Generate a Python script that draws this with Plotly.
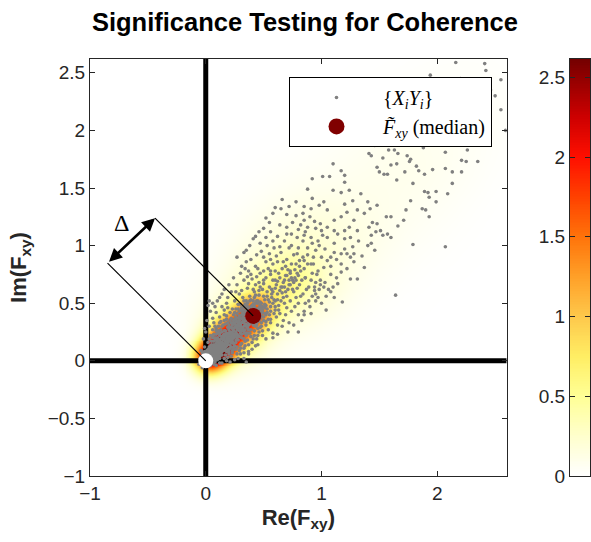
import numpy as np
import plotly.graph_objects as go

# ---------------------------------------------------------------- data
TITLE = "Significance Testing for Coherence"
x_ticks = [-1, 0, 1, 2]
y_ticks = [-1, -0.5, 0, 0.5, 1, 1.5, 2, 2.5]
cbar_ticks = [0, 0.5, 1, 1.5, 2, 2.5]
x_range = [-1, 2.6]
y_range = [-1, 2.62]
density_max = 2.615

median_pt = (0.41, 0.39)      # median of the products
delta_arm = 1.2               # length of the Δ construction arms

# product samples X_i * Y_i (Re, Im), grouped by distance from the origin
near_origin = [
    (0.00, 0.01), (0.01, -0.01), (-0.01, 0.02), (0.02, 0.00), (0.01, 0.03), (0.03, 0.02), (-0.02, 0.00), (0.00, -0.02), (0.04, 0.04), (0.02, 0.05),
    (0.05, 0.01), (-0.03, 0.03), (0.03, -0.03), (0.06, 0.03), (0.03, 0.07), (0.07, 0.06), (-0.04, -0.01), (-0.01, -0.04), (0.05, 0.08), (0.08, 0.04),
    (0.00, 0.06), (0.06, 0.00), (-0.02, 0.05), (0.05, -0.02), (0.09, 0.08), (0.07, 0.10), (0.10, 0.06), (-0.05, 0.02), (0.02, -0.05), (0.04, 0.10),
    (0.10, 0.03), (0.08, 0.12), (0.12, 0.09), (0.01, 0.09), (0.09, 0.01), (-0.03, 0.07), (0.07, -0.03), (0.11, 0.12), (0.13, 0.06), (0.06, 0.13),
    (-0.06, -0.03), (-0.03, -0.06), (0.03, 0.12), (0.12, 0.02), (0.14, 0.11), (0.10, 0.14), (-0.01, 0.12), (0.12, -0.02), (0.04, 0.01), (0.01, 0.04),
    (0.06, 0.06), (0.08, 0.08), (0.02, 0.02), (0.03, 0.05), (0.05, 0.03), (-0.02, -0.02), (0.07, 0.02), (0.02, 0.08), (0.09, 0.11), (0.11, 0.09),
    (0.13, 0.14), (0.15, 0.09), (0.09, 0.15), (-0.04, 0.09), (0.09, -0.04), (0.15, 0.15), (0.00, 0.00), (0.04, -0.01), (-0.01, 0.06), (0.06, -0.01),
    (0.01, 0.02), (0.02, 0.01), (0.03, 0.03), (0.00, 0.04), (0.04, 0.00), (-0.01, 0.01), (0.01, -0.02), (0.05, 0.05), (0.03, 0.06), (0.06, 0.04),
    (0.02, 0.07), (0.07, 0.01), (-0.02, 0.03), (0.03, -0.02), (0.08, 0.07), (0.05, 0.09), (0.09, 0.05), (0.04, 0.07), (0.07, 0.04), (0.01, 0.05),
    (0.05, 0.00), (-0.03, 0.01), (0.00, -0.03), (0.06, 0.08), (0.08, 0.10), (0.10, 0.08), (0.04, 0.02), (0.02, 0.04), (-0.01, 0.08), (0.08, -0.01),
    (0.11, 0.11), (0.12, 0.07), (0.07, 0.12), (0.00, 0.02), (0.02, -0.01), (0.06, 0.02), (0.02, 0.10), (0.10, 0.01), (-0.04, 0.04), (0.04, -0.04),
    (0.03, 0.04), (0.05, 0.06), (0.04, 0.08), (0.08, 0.05), (0.06, 0.07), (0.02, 0.06), (0.06, 0.02), (0.09, 0.09), (0.07, 0.09), (0.09, 0.07),
    (0.01, 0.07), (0.07, 0.00), (0.10, 0.04), (0.04, 0.11), (0.11, 0.05), (0.05, 0.11), (0.12, 0.10), (0.10, 0.12), (0.08, 0.03), (0.03, 0.09),
    (0.00, 0.03), (0.03, 0.00), (0.01, 0.00), (0.00, 0.05), (0.05, 0.04), (0.04, 0.05), (0.07, 0.07), (0.06, 0.05), (0.05, 0.07), (0.08, 0.09),
    (0.09, 0.03), (0.03, 0.08), (0.11, 0.08), (0.08, 0.11), (0.12, 0.04), (0.04, 0.13), (0.13, 0.09), (0.09, 0.13), (-0.01, 0.03), (0.03, -0.01),
]
inner_core = [
    (0.17, 0.12), (0.12, 0.18), (0.19, 0.17), (0.16, 0.21), (0.21, 0.14), (0.23, 0.19), (0.18, 0.24), (0.14, 0.25), (0.25, 0.13), (0.20, 0.21),
    (0.22, 0.25), (0.26, 0.22), (0.24, 0.28), (0.28, 0.18), (0.19, 0.29), (0.27, 0.27), (0.30, 0.24), (0.25, 0.32), (0.31, 0.29), (0.29, 0.33),
    (0.33, 0.26), (0.22, 0.33), (0.34, 0.31), (0.32, 0.36), (0.36, 0.29), (0.28, 0.37), (0.35, 0.35), (0.38, 0.32), (0.31, 0.40), (0.37, 0.38),
    (0.05, 0.17), (0.02, 0.16), (0.08, 0.20), (0.04, 0.22), (0.10, 0.24), (0.06, 0.27), (0.11, 0.30), (0.07, 0.33), (0.13, 0.34), (0.15, 0.31),
    (0.17, 0.05), (0.16, 0.02), (0.20, 0.08), (0.22, 0.04), (0.24, 0.10), (0.27, 0.06), (0.30, 0.11), (0.33, 0.07), (0.34, 0.13), (0.31, 0.15),
    (0.18, 0.36), (0.16, 0.40), (0.21, 0.42), (0.12, 0.38), (0.24, 0.40), (0.09, 0.42), (0.19, 0.46), (0.14, 0.47), (0.06, 0.37), (0.03, 0.30),
    (0.36, 0.18), (0.40, 0.16), (0.42, 0.22), (0.38, 0.24), (0.44, 0.19), (0.40, 0.10), (0.46, 0.25), (0.39, 0.27), (0.43, 0.30), (0.28, 0.02),
    (0.00, 0.25), (-0.02, 0.19), (0.01, 0.35), (-0.01, 0.28), (0.04, 0.43), (0.02, 0.48), (0.06, 0.50), (0.10, 0.52), (0.25, 0.01), (0.21, -0.01),
    (0.13, 0.16), (0.15, 0.13), (0.10, 0.19), (0.19, 0.10), (0.12, 0.22), (0.22, 0.12), (0.16, 0.26), (0.26, 0.16), (0.20, 0.31), (0.31, 0.20),
    (0.33, 0.02), (0.35, -0.01), (0.18, 0.00), (0.14, -0.02), (0.37, 0.06), (0.29, 0.09), (0.07, 0.23), (0.09, 0.28), (0.26, 0.36), (0.23, 0.45),
    (0.26, 0.45), (0.29, 0.43), (0.33, 0.44), (0.41, 0.36), (0.45, 0.34), (0.47, 0.29), (0.49, 0.22), (0.44, 0.40), (0.40, 0.42), (0.36, 0.47),
    (0.13, 0.12), (0.12, 0.14), (0.15, 0.12), (0.11, 0.16), (0.16, 0.11), (0.14, 0.15), (0.17, 0.15), (0.15, 0.18), (0.18, 0.13), (0.13, 0.19),
    (0.19, 0.16), (0.16, 0.19), (0.20, 0.18), (0.18, 0.21), (0.21, 0.19), (0.17, 0.17), (0.10, 0.20), (0.20, 0.10), (0.08, 0.18), (0.18, 0.08),
    (0.12, 0.24), (0.24, 0.12), (0.22, 0.16), (0.16, 0.23), (0.06, 0.20), (0.20, 0.06), (0.14, 0.21), (0.21, 0.11), (0.11, 0.14), (0.14, 0.11),
    (0.19, 0.20), (0.22, 0.21), (0.23, 0.24), (0.21, 0.23), (0.25, 0.21), (0.13, 0.27), (0.27, 0.12), (0.09, 0.23), (0.23, 0.09), (0.17, 0.26),
    (0.26, 0.18), (0.24, 0.15), (0.15, 0.22), (0.19, 0.23), (0.23, 0.17), (0.05, 0.14), (0.14, 0.05), (0.07, 0.17), (0.17, 0.09), (0.11, 0.26),
]
core_fill = [
    (0.05, 0.05), (0.08, 0.06), (0.06, 0.09), (0.11, 0.07), (0.07, 0.14), (0.14, 0.08), (0.12, 0.12), (0.10, 0.10), (0.16, 0.14), (0.14, 0.16),
    (0.18, 0.19), (0.21, 0.17), (0.17, 0.22), (0.20, 0.24), (0.23, 0.22), (0.26, 0.25), (0.24, 0.20), (0.19, 0.14), (0.15, 0.19), (0.28, 0.30),
    (0.30, 0.27), (0.27, 0.34), (0.33, 0.33), (0.35, 0.30), (0.32, 0.38), (0.36, 0.36), (0.39, 0.35), (0.34, 0.41), (0.38, 0.40), (0.41, 0.39),
    (0.42, 0.43), (0.45, 0.40), (0.40, 0.48), (0.46, 0.46), (0.49, 0.44), (0.44, 0.52), (0.48, 0.50), (0.51, 0.49), (0.50, 0.56), (0.54, 0.53),
    (0.56, 0.47), (0.53, 0.60), (0.57, 0.55), (0.60, 0.52), (0.58, 0.60), (0.61, 0.66), (0.64, 0.61), (0.62, 0.69), (0.66, 0.64), (0.69, 0.60),
    (0.68, 0.70), (0.72, 0.66), (0.70, 0.74), (0.74, 0.72), (0.76, 0.68), (0.73, 0.76), (0.77, 0.79), (0.80, 0.74), (0.78, 0.70), (0.81, 0.82),
    (0.08, 0.30), (0.12, 0.33), (0.17, 0.32), (0.22, 0.37), (0.27, 0.41), (0.31, 0.46), (0.34, 0.49), (0.38, 0.52), (0.43, 0.57), (0.46, 0.61),
    (0.30, 0.06), (0.33, 0.11), (0.37, 0.14), (0.41, 0.19), (0.45, 0.22), (0.49, 0.26), (0.52, 0.31), (0.56, 0.36), (0.59, 0.41), (0.63, 0.44),
    (0.03, 0.19), (0.06, 0.22), (0.09, 0.26), (0.19, 0.03), (0.23, 0.07), (0.26, 0.10), (0.14, 0.10), (0.10, 0.17), (0.21, 0.29), (0.29, 0.21),
    (0.35, 0.24), (0.24, 0.35), (0.44, 0.33), (0.33, 0.47), (0.52, 0.40), (0.41, 0.62), (0.60, 0.47), (0.50, 0.70), (0.67, 0.55), (0.56, 0.78),
    (0.24, 0.26), (0.26, 0.24), (0.27, 0.29), (0.29, 0.26), (0.25, 0.29), (0.29, 0.30), (0.30, 0.28), (0.28, 0.32), (0.32, 0.28), (0.26, 0.34),
    (0.34, 0.27), (0.23, 0.31), (0.31, 0.23), (0.21, 0.35), (0.35, 0.22), (0.19, 0.33), (0.33, 0.19), (0.27, 0.23), (0.23, 0.28), (0.30, 0.31),
    (0.31, 0.33), (0.33, 0.30), (0.29, 0.35), (0.35, 0.32), (0.26, 0.38), (0.37, 0.27), (0.18, 0.39), (0.39, 0.21), (0.16, 0.35), (0.34, 0.17),
    (0.22, 0.29), (0.28, 0.22), (0.25, 0.36), (0.36, 0.24), (0.30, 0.37), (0.37, 0.31), (0.20, 0.27), (0.27, 0.20), (0.32, 0.34), (0.34, 0.35),
    (0.14, 0.30), (0.30, 0.14), (0.24, 0.33), (0.33, 0.24), (0.28, 0.28), (0.31, 0.26), (0.26, 0.31), (0.21, 0.25), (0.25, 0.23), (0.29, 0.39),
    (0.36, 0.39), (0.39, 0.37), (0.38, 0.42), (0.42, 0.38), (0.35, 0.43), (0.43, 0.35), (0.40, 0.40), (0.37, 0.45), (0.45, 0.37), (0.33, 0.40),
    (0.40, 0.33), (0.41, 0.44), (0.44, 0.42), (0.39, 0.47), (0.47, 0.40), (0.31, 0.44), (0.44, 0.31), (0.28, 0.45), (0.45, 0.28), (0.42, 0.47),
    (0.46, 0.44), (0.43, 0.50), (0.48, 0.45), (0.36, 0.50), (0.50, 0.38), (0.34, 0.37), (0.37, 0.34), (0.32, 0.42), (0.41, 0.31), (0.25, 0.42),
    (0.42, 0.26), (0.47, 0.48), (0.45, 0.52), (0.51, 0.46), (0.39, 0.53), (0.53, 0.42), (0.30, 0.49), (0.48, 0.33), (0.35, 0.46), (0.46, 0.35),
    (0.38, 0.36), (0.43, 0.45), (0.41, 0.49), (0.49, 0.42), (0.33, 0.52), (0.52, 0.34), (0.37, 0.41), (0.40, 0.44), (0.44, 0.39), (0.48, 0.39),
]
outer_core = [
    (0.40, 0.45), (0.43, 0.38), (0.45, 0.50), (0.48, 0.42), (0.35, 0.52), (0.32, 0.55), (0.38, 0.56), (0.44, 0.45), (0.50, 0.35), (0.47, 0.37),
    (0.52, 0.48), (0.55, 0.40), (0.42, 0.60), (0.36, 0.63), (0.29, 0.58), (0.25, 0.52), (0.53, 0.56), (0.58, 0.50), (0.60, 0.44), (0.56, 0.33),
    (0.49, 0.62), (0.46, 0.68), (0.40, 0.71), (0.33, 0.70), (0.27, 0.66), (0.22, 0.60), (0.19, 0.55), (0.55, 0.64), (0.62, 0.58), (0.65, 0.52),
    (0.61, 0.38), (0.66, 0.30), (0.58, 0.24), (0.52, 0.19), (0.45, 0.14), (0.52, 0.72), (0.58, 0.70), (0.63, 0.48), (0.57, 0.58), (0.51, 0.53),
    (0.46, 0.57), (0.53, 0.45), (0.60, 0.63), (0.68, 0.50), (0.48, 0.30), (0.54, 0.27), (0.62, 0.31), (0.69, 0.40), (0.71, 0.25), (0.62, 0.23),
    (0.76, 0.31), (0.80, 0.25), (0.43, 0.13), (0.58, 0.20), (0.37, 0.08), (0.16, 0.44), (0.12, 0.55), (0.08, 0.47), (0.03, 0.52), (0.16, 0.62),
    (0.20, 0.66), (0.24, 0.72), (0.30, 0.76), (0.34, 0.80), (0.14, 0.58), (0.18, 0.50), (0.28, 0.49), (0.31, 0.61), (0.37, 0.67), (0.41, 0.52),
    (0.49, 0.47), (0.56, 0.43), (0.64, 0.41), (0.67, 0.35), (0.72, 0.33), (0.74, 0.43), (0.70, 0.46), (0.59, 0.53), (0.55, 0.51), (0.47, 0.64),
    (0.43, 0.66), (0.39, 0.75), (0.44, 0.73), (0.50, 0.67), (0.57, 0.62), (0.66, 0.59), (0.62, 0.53), (0.73, 0.52), (0.77, 0.47), (0.80, 0.40),
    (0.83, 0.35), (0.85, 0.43), (0.45, 0.80), (0.50, 0.78), (0.36, 0.73), (0.26, 0.60), (0.54, 0.36), (0.51, 0.41), (0.47, 0.51), (0.42, 0.55),
]
mid_band = [
    (0.60, 0.78), (0.54, 0.80), (0.47, 0.76), (0.43, 0.82), (0.37, 0.78), (0.31, 0.82), (0.68, 0.64), (0.70, 0.56), (0.72, 0.70), (0.64, 0.72),
    (0.66, 0.80), (0.71, 0.62), (0.75, 0.62), (0.78, 0.55), (0.80, 0.50), (0.62, 0.86), (0.56, 0.88), (0.50, 0.90), (0.44, 0.92), (0.39, 0.88),
    (0.35, 0.86), (0.73, 0.78), (0.77, 0.72), (0.81, 0.66), (0.84, 0.58), (0.86, 0.50), (0.70, 0.88), (0.65, 0.94), (0.59, 0.98), (0.53, 1.00),
    (0.47, 1.02), (0.41, 1.06), (0.27, 0.90), (0.33, 0.94), (0.78, 0.84), (0.82, 0.78), (0.86, 0.72), (0.89, 0.64), (0.92, 0.56), (0.76, 0.92),
    (0.72, 0.98), (0.68, 1.04), (0.62, 1.08), (0.56, 1.12), (0.50, 1.15), (0.43, 1.08), (0.80, 0.98), (0.84, 0.90), (0.88, 0.84), (0.92, 0.76),
    (0.95, 0.68), (0.98, 0.62), (0.90, 0.47), (0.95, 0.52), (0.67, 0.68), (0.63, 0.76), (0.75, 0.70), (0.69, 0.74), (0.58, 0.84), (0.52, 0.86),
    (0.48, 0.95), (0.55, 0.93), (0.61, 0.91), (0.67, 0.86), (0.74, 0.84), (0.79, 0.76), (0.83, 0.70), (0.87, 0.62), (0.73, 0.66), (0.79, 0.63),
    (0.82, 0.56), (0.69, 0.82), (0.64, 0.99), (0.58, 1.04), (0.52, 1.07), (0.46, 1.12), (0.38, 1.00), (0.35, 0.96), (0.85, 0.80), (0.91, 0.70),
    (0.96, 0.75), (0.99, 0.66), (1.02, 0.64), (0.94, 0.61), (0.97, 0.55), (1.04, 0.56), (1.08, 0.60), (0.88, 0.92), (0.74, 1.00), (0.70, 1.10),
    (0.76, 0.60), (0.71, 0.79), (0.60, 0.70), (0.56, 0.75), (0.65, 0.64), (0.81, 0.87), (0.93, 0.84),
    (0.84, 1.04), (0.88, 0.98), (0.93, 0.90), (0.80, 1.14), (0.75, 1.20), (0.70, 1.27), (0.65, 1.32), (0.58, 1.28), (0.95, 0.96), (1.00, 0.90),
    (0.86, 1.12), (0.92, 1.02), (0.98, 1.00), (1.03, 0.97), (1.08, 0.90), (0.82, 1.18), (0.90, 1.25), (0.94, 1.21), (1.00, 1.13), (0.78, 1.26),
    (0.84, 1.28), (0.72, 1.34), (0.78, 1.38), (0.60, 1.33), (0.55, 1.20), (0.66, 1.40), (0.52, 1.24), (0.74, 1.10), (0.70, 1.16), (0.64, 1.18),
    (1.13, 0.88), (1.08, 0.82), (1.13, 0.72), (1.03, 0.68), (0.95, 0.58), (1.00, 0.50), (0.89, 0.52), (1.06, 0.62), (1.22, 0.80), (1.28, 0.86),
]
tail = [
    (1.27, 1.91), (1.34, 1.89), (1.38, 1.89), (1.46, 1.87), (1.59, 1.91), (1.67, 1.93), (1.69, 1.88), (1.70, 1.97), (1.79, 1.97), (1.84, 1.97),
    (2.06, 1.97), (1.88, 1.85), (2.05, 1.89), (2.10, 1.89), (2.07, 1.81), (2.32, 1.88), (2.26, 1.83), (2.21, 1.74), (2.25, 1.73), (2.35, 1.73),
    (2.13, 1.64), (2.21, 1.64), (2.07, 1.67), (1.96, 1.66), (1.89, 1.62), (1.84, 1.65), (1.79, 1.54), (1.72, 1.64), (1.82, 1.69), (1.76, 1.73),
    (1.77, 1.75), (1.74, 1.78), (1.66, 1.80), (1.65, 1.71), (1.58, 1.83), (1.63, 1.83), (1.53, 1.76), (1.43, 1.78), (1.41, 1.80), (1.48, 1.68),
    (1.50, 1.64), (1.54, 1.62), (1.57, 1.62), (1.60, 1.70), (1.65, 1.57), (1.89, 1.47), (1.92, 1.46), (1.93, 1.42), (1.99, 1.47), (1.99, 1.38),
    (2.09, 1.45), (1.87, 1.32), (1.90, 1.31), (1.93, 1.25), (2.13, 1.54), (1.77, 1.39), (1.73, 1.31), (1.71, 1.22), (1.66, 1.17), (1.60, 1.25),
    (1.57, 1.10), (1.60, 1.07), (1.51, 1.13), (1.79, 1.01), (2.07, 0.99), (1.64, 0.57), (1.37, 0.81), (1.31, 0.71), (1.25, 0.71), (1.18, 0.51),
    (1.11, 0.55), (1.04, 0.44), (0.91, 0.41), (0.85, 0.40), (1.17, 0.77), (1.14, 0.67), (1.10, 0.64), (1.46, 0.96), (1.43, 1.02), (1.35, 0.91),
    (1.28, 0.93), (1.25, 0.90), (1.10, 1.71), (0.92, 1.58), (0.88, 1.49), (1.01, 1.60), (1.07, 1.60), (1.17, 1.65), (1.20, 1.61), (1.20, 1.55),
    (1.10, 1.48), (0.92, 1.41), (0.85, 1.34), (0.91, 1.32), (0.98, 1.35), (1.02, 1.38), (1.05, 1.31), (1.17, 1.46), (1.24, 1.48), (1.20, 1.36),
    (1.27, 1.39), (1.34, 1.45), (1.40, 1.38), (1.48, 1.35), (1.42, 1.32), (1.31, 1.31), (1.37, 1.28), (1.44, 1.20), (1.41, 1.16), (1.48, 1.19),
    (1.56, 1.25), (1.47, 1.12), (1.53, 1.09), (1.43, 1.09), (1.40, 1.00), (1.11, 1.22), (1.17, 1.25), (1.22, 1.29), (1.28, 1.22), (1.24, 1.16),
    (1.20, 1.13), (1.31, 1.13), (1.11, 1.13), (1.05, 1.16), (0.99, 1.19), (0.95, 1.15), (0.88, 1.16), (0.85, 1.22), (1.14, 1.10), (1.20, 1.06),
    (1.25, 1.07), (1.32, 1.04), (1.27, 0.99), (1.20, 0.97), (1.11, 1.02), (1.05, 1.07), (1.01, 1.09), (0.97, 1.04), (0.91, 1.07), (0.85, 1.09),
    (0.79, 1.07), (1.11, 0.94), (1.17, 0.93), (1.22, 0.93), (1.05, 0.87), (1.02, 0.81), (0.97, 0.78), (0.91, 0.84), (0.85, 0.87), (0.79, 0.93),
    (1.08, 0.75), (1.17, 0.84), (0.99, 0.70), (0.94, 0.64), (0.86, 0.72),
]
far_tail = [
    (2.16, 2.59), (2.42, 2.52), (2.55, 2.44), (1.94, 2.48), (2.29, 2.26), (2.03, 2.18), (1.73, 2.22), (1.51, 2.05), (1.64, 2.09), (1.25, 2.00),
    (1.86, 2.37), (2.07, 2.39), (2.46, 2.35), (2.55, 2.18), (2.33, 2.09), (2.59, 2.00), (2.41, 2.58), (1.80, 2.12), (1.95, 2.05), (2.20, 2.45),
    (2.12, 2.30), (1.98, 2.28), (2.25, 2.15), (2.38, 2.02), (1.58, 2.25), (1.45, 2.15), (2.50, 2.30), (2.30, 2.40), (1.88, 2.20), (2.15, 2.05),
]

# ---------------------------------------------------------------- density
samples = np.array(near_origin + inner_core + core_fill + outer_core + mid_band + tail + far_tail)
re_vals, im_vals = samples[:, 0], samples[:, 1]

grid_x = np.linspace(x_range[0], x_range[1], 217)
grid_y = np.linspace(y_range[0], y_range[1], 218)
GX, GY = np.meshgrid(grid_x, grid_y)

# adaptive Gaussian KDE: bandwidth follows the 10th-neighbour distance
dist = np.sqrt(((samples[:, None, :] - samples[None, :, :]) ** 2).sum(-1))
knn = np.sort(dist, axis=1)[:, 10]
bw = np.clip(2.0 * knn, 0.085, 0.26)
density = np.zeros_like(GX)
for (sx, sy), h in zip(samples, bw):
    density += np.exp(-((GX - sx) ** 2 + (GY - sy) ** 2) / (2 * h * h)) / (2 * np.pi * h * h)
density /= len(samples)

stops = [(0.0, (255, 255, 255)), (0.25, (255, 255, 205)), (0.5, (255, 255, 150)),
         (0.75, (255, 238, 100)), (1.0, (254, 200, 75)), (1.25, (255, 160, 40)),
         (1.5, (255, 115, 10)), (1.75, (255, 65, 0)), (2.0, (255, 15, 0)),
         (2.25, (205, 0, 0)), (2.5, (145, 0, 0)), (density_max, (115, 0, 0))]
colorscale = [[v / density_max, "rgb(%d,%d,%d)" % c] for v, c in stops]

# ---------------------------------------------------------------- figure
fig = go.Figure()

fig.add_trace(go.Heatmap(x=grid_x, y=grid_y, z=density, colorscale=colorscale,
                         zmin=0, zmax=density_max, zsmooth="best",
                         showscale=False, hoverinfo="skip"))

# coordinate axes through the origin
fig.add_trace(go.Scatter(x=[0, 0, None, x_range[0], x_range[1]],
                         y=[y_range[0], y_range[1], None, 0, 0],
                         mode="lines", line=dict(color="black", width=5),
                         showlegend=False, hoverinfo="skip"))

fig.add_trace(go.Scatter(x=re_vals, y=im_vals, mode="markers",
                         marker=dict(size=3.6, color="rgb(128,128,128)"),
                         name="{<i>X<sub>i</sub>Y<sub>i</sub></i>}"))

fig.add_trace(go.Scatter(x=[median_pt[0]], y=[median_pt[1]], mode="markers",
                         marker=dict(size=16, color="rgb(128,0,0)"),
                         name="<i>F\u0303</i><sub><i>xy</i></sub> (median)"))

fig.add_trace(go.Scatter(x=[0], y=[0], mode="markers",
                         marker=dict(size=15, color="white"),
                         showlegend=False, hoverinfo="skip"))

# Δ construction: arms perpendicular to the diagonal from origin and median
off = delta_arm * np.array([-1.0, 1.0]) / np.sqrt(2)
a0 = np.array([0.0, 0.0]) + off
a1 = np.array(median_pt) + off
fig.add_trace(go.Scatter(x=[0, a0[0], None, median_pt[0], a1[0]],
                         y=[0, a0[1], None, median_pt[1], a1[1]],
                         mode="lines", line=dict(color="black", width=1.2),
                         showlegend=False, hoverinfo="skip"))

fig.add_annotation(x=a1[0], y=a1[1], ax=a0[0], ay=a0[1], xref="x", yref="y",
                   axref="x", ayref="y", text="", showarrow=True,
                   arrowhead=2, arrowside="end+start", arrowwidth=2.6,
                   arrowsize=1, arrowcolor="black")
mid = (a0 + a1) / 2
fig.add_annotation(x=mid[0], y=mid[1], xref="x", yref="y", text="Δ",
                   showarrow=False, xshift=-10, yshift=18,
                   font=dict(family="Liberation Serif", size=24, color="black"))

# colour bar drawn as its own small axis pair
cb_vals = np.linspace(0, density_max, 256)
fig.add_trace(go.Heatmap(x=[0], y=cb_vals, z=cb_vals[:, None], colorscale=colorscale,
                         zmin=0, zmax=density_max, showscale=False,
                         xaxis="x2", yaxis="y2", hoverinfo="skip"))

sans = "Liberation Sans, Arial"
tick_font = dict(family=sans, size=19, color="#262626")
axis_common = dict(showline=True, linecolor="#262626", linewidth=1, mirror="ticks",
                   ticks="inside", ticklen=5, tickcolor="#262626", showgrid=False,
                   zeroline=False, tickfont=tick_font, automargin=False)

fig.update_layout(
    width=591, height=542,
    margin=dict(l=90, r=1, t=59, b=66),
    paper_bgcolor="white", plot_bgcolor="white",
    title=dict(text=TITLE, x=0.516, xref="container", xanchor="center",
               y=1 - 22 / 542, yref="container", yanchor="middle",
               font=dict(family=sans, size=25.5, color="black", weight="bold")),
    xaxis=dict(domain=[0, 0.8334], range=x_range, tickvals=x_ticks,
               title=dict(text="Re(F<sub>xy</sub>)", standoff=6,
                          font=dict(family=sans, size=22, color="#262626", weight="bold")),
               **axis_common),
    yaxis=dict(domain=[0, 1], range=y_range, tickvals=y_ticks,
               title=dict(text="Im(F<sub>xy</sub>)", standoff=14,
                          font=dict(family=sans, size=22, color="#262626", weight="bold")),
               **axis_common),
    xaxis2=dict(domain=[0.96, 1.0], anchor="y2", range=[-0.5, 0.5], showticklabels=False,
                ticks="", showline=True, linecolor="#262626", mirror=True, showgrid=False,
                zeroline=False),
    yaxis2=dict(domain=[0, 1], anchor="x2", range=[0, density_max], tickvals=cbar_ticks,
                side="left", **axis_common),
    legend=dict(x=0.804, xanchor="right", y=0.957, yanchor="top",
                bgcolor="white", bordercolor="black", borderwidth=1,
                font=dict(family="Liberation Serif", size=20, color="black"),
                itemwidth=83, tracegroupgap=0),
)

fig.write_html("out.html")
